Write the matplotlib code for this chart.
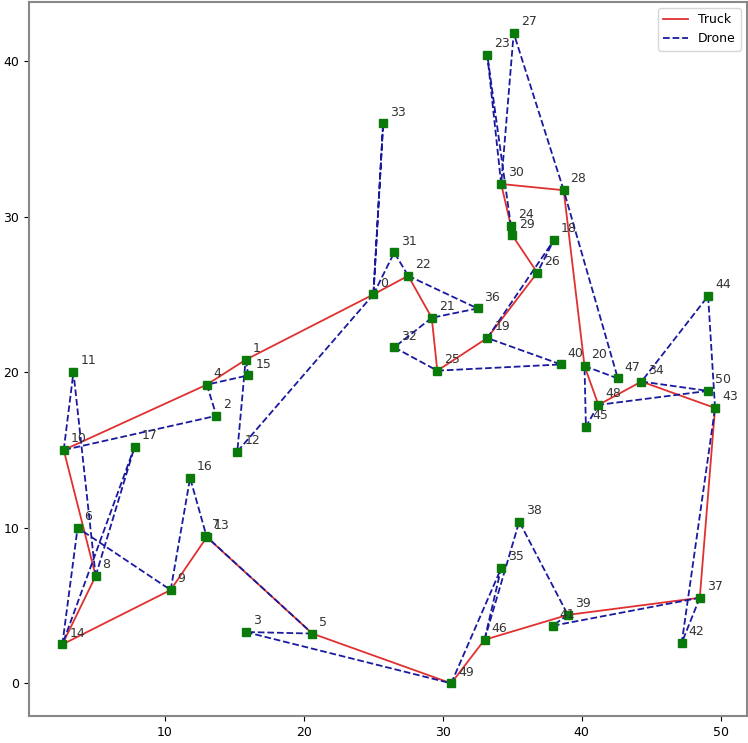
import matplotlib
matplotlib.use("Agg")
import matplotlib.pyplot as plt

# node coordinates (index = node id, 0 is the depot)
xs = [25.0, 15.8, 13.7, 15.8, 13.0, 20.6, 3.7, 12.9, 5.0, 10.4,
      2.7, 3.4, 15.2, 13.0, 2.6, 16.0, 11.8, 7.8, 38.0, 33.2,
      40.2, 29.2, 27.5, 33.2, 34.9, 29.6, 36.8, 35.1, 38.7, 35.0,
      34.2, 26.5, 26.5, 25.7, 44.3, 34.2, 32.5, 48.5, 35.5, 39.0,
      38.5, 37.9, 47.2, 49.6, 49.1, 40.3, 33.0, 42.6, 41.2, 30.6,
      49.1]
ys = [25.0, 20.8, 17.2, 3.3, 19.2, 3.2, 10.0, 9.5, 6.9, 6.0,
      15.0, 20.0, 14.9, 9.4, 2.5, 19.8, 13.2, 15.2, 28.5, 22.2,
      20.4, 23.5, 26.2, 40.4, 29.4, 20.1, 26.4, 41.8, 31.7, 28.8,
      32.1, 27.7, 21.6, 36.0, 19.4, 7.4, 24.1, 5.5, 10.4, 4.4,
      20.5, 3.7, 2.6, 17.7, 24.9, 16.5, 2.8, 19.6, 17.9, 0.0,
      18.8]

truck_route = [0, 1, 4, 10, 8, 14, 9, 13, 5, 49, 46, 39, 37, 43, 34, 48,
               20, 28, 30, 24, 29, 26, 19, 25, 21, 22, 0]

# drone sorties: (launch, customer, rendezvous)
drone_sorties = [(0, 33, 0), (0, 31, 22), (22, 36, 21), (21, 32, 25),
                 (25, 40, 19), (19, 18, 26), (30, 23, 24), (28, 27, 30),
                 (20, 47, 28), (48, 45, 20), (34, 50, 48), (43, 44, 34),
                 (37, 42, 43), (39, 41, 37), (46, 38, 39), (49, 35, 46),
                 (5, 3, 49), (13, 7, 5), (9, 16, 13), (14, 6, 9),
                 (8, 17, 14), (10, 11, 8), (4, 2, 10), (1, 15, 4),
                 (0, 12, 1)]

fig = plt.figure(figsize=(7.48, 7.43), dpi=100)
ax = fig.add_axes([29 / 748, 27 / 743, 718 / 748, 714 / 743])

ax.plot([xs[i] for i in truck_route], [ys[i] for i in truck_route],
        color="#e03030", linewidth=1.3, label="Truck")

for k, (a, c, b) in enumerate(drone_sorties):
    ax.plot([xs[a], xs[c], xs[b]], [ys[a], ys[c], ys[b]], "--",
            color="#1a1aa0", linewidth=1.3,
            label="Drone" if k == 0 else None)

ax.plot(xs, ys, "s", color="#0a7a0a", markersize=6, linestyle="none", zorder=3)

for i in range(len(xs)):
    ax.text(xs[i] + 0.5, ys[i] + 0.5, str(i), fontsize=9, color="#333333")

ax.set_xlim(0.2, 51.9)
ax.set_ylim(-2.1, 43.8)
ax.set_xticks([10, 20, 30, 40, 50])
ax.set_yticks([0, 10, 20, 30, 40])
ax.tick_params(labelsize=9)
for s in ax.spines.values():
    s.set_color("#888888")
    s.set_linewidth(1.5)

ax.legend(loc="upper right", fontsize=9)

fig.savefig("out.png", dpi=100)
